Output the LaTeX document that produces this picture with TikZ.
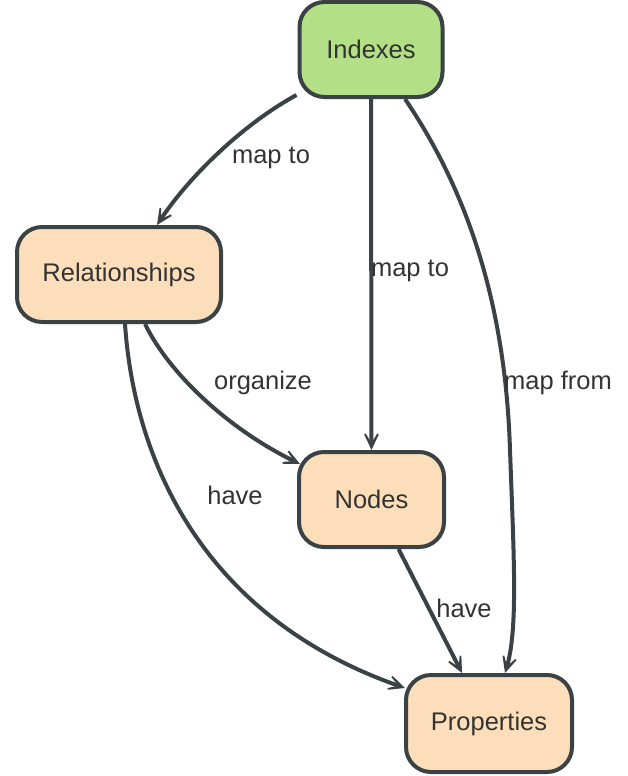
\documentclass[tikz,border=0pt]{standalone}
\usepackage{fontspec}
\setmainfont{Liberation Sans}
\usetikzlibrary{arrows.meta,backgrounds}
\definecolor{edgecol}{HTML}{3A4246}
\definecolor{txtcol}{HTML}{333333}
\definecolor{greenfill}{HTML}{B3DF86}
\definecolor{peachfill}{HTML}{FCDFBA}
\begin{document}
\begin{tikzpicture}[x=1pt,y=-1pt,
  every node/.style={font=\fontsize{25.5}{30}\selectfont, text=txtcol},
  box/.style={draw=edgecol, line width=4pt, rounded corners=25pt, minimum height=95pt, inner sep=0pt},
  gbox/.style={box, fill=greenfill},
  pbox/.style={box, fill=peachfill},
  conn/.style={draw=edgecol, line width=4pt, -{Stealth[length=30pt,width=28pt,inset=23pt]}},
  lbl/.style={inner sep=1pt}]
\path[use as bounding box] (0,0) rectangle (628,776);
\node[gbox, minimum width=143pt] (idx) at (371,49.5) {Indexes};
\node[pbox, minimum width=204pt] (rel) at (119,274.5) {Relationships};
\node[pbox, minimum width=145pt] (nod) at (371.5,499.5) {Nodes};
\node[pbox, minimum width=166pt, minimum height=97pt] (prp) at (489,723.5) {Properties};
\begin{scope}[on background layer]
\draw[conn] ([xshift=-1pt,yshift=4pt]idx.south west) .. controls (245,123) and (190,175) .. ([xshift=38pt]rel.north);
\draw[conn] (idx.south) -- (nod.north);
\draw[conn] ([xshift=34pt]idx.south) .. controls (460,180) and (505,290) .. (510,450) .. controls (514,560) and (518,630) .. ([xshift=16pt]prp.north);
\draw[conn] ([xshift=26pt]rel.south) .. controls (170,375) and (230,430) .. ([xshift=3pt,yshift=-14pt]nod.north west);
\draw[conn] ([xshift=6pt]rel.south) .. controls (135,470) and (210,620) .. ([xshift=1pt,yshift=-15pt]prp.north west);
\draw[conn] ([xshift=27pt]nod.south) -- ([xshift=-27pt]prp.north);
\end{scope}
\node[lbl] (l1) at (271,158) {map to};
\node[lbl] (l2) at (410,271) {map to};
\node[lbl] (l3) at (558,383) {map from};
\node[lbl] (l4) at (263,383) {organize};
\node[lbl] (l5) at (235,495) {have};
\node[lbl] (l6) at (464,608) {have};
\end{tikzpicture}
\end{document}
